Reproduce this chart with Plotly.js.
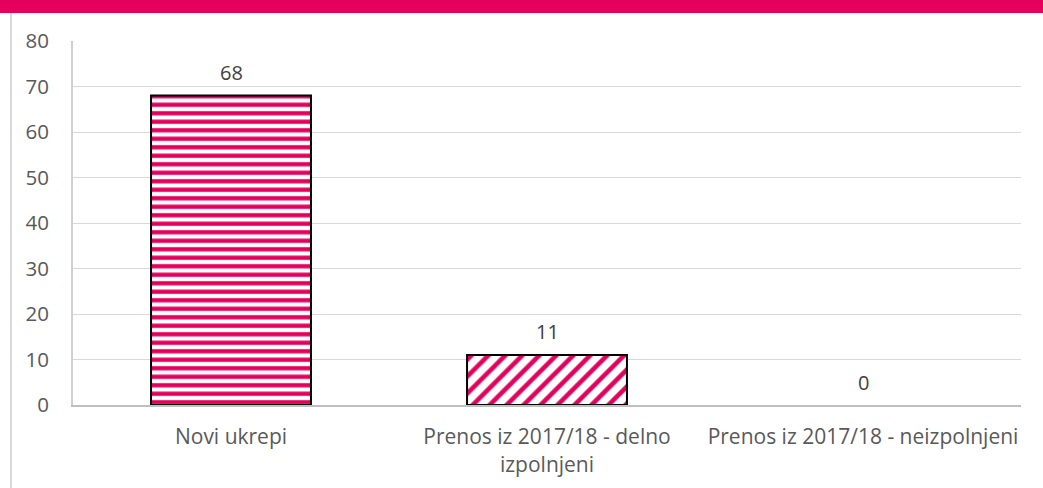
<!DOCTYPE html>
<html>
<head>
<meta charset="utf-8">
<script src="https://cdn.plot.ly/plotly-3.0.1.min.js"></script>
<style>
  html, body { margin: 0; padding: 0; background: #fff; }
  #chart { width: 1043px; height: 488px; }
</style>
</head>
<body>
<div id="chart"></div>
<script>
// Chart data
const categories = ["Novi ukrepi", "Prenos iz 2017/18 - delno<br>izpolnjeni", "Prenos iz 2017/18 - neizpolnjeni"];
const counts = [68, 11, 0];
const patterns = ["-", "/", ""];
const yTicks = [0, 10, 20, 30, 40, 50, 60, 70, 80];

const magenta = "#E5005C";
const fontFamily = "Open Sans, sans-serif";

const trace = {
  x: categories,
  y: counts,
  type: "bar",
  width: 0.506,
  marker: {
    color: "#ffffff",
    line: { color: "#000000", width: counts.map((v) => (v > 0 ? 2 : 0)) },
    pattern: {
      shape: patterns,
      fgcolor: magenta,
      bgcolor: "#ffffff",
      fillmode: "replace",
      size: [8.5, 12, 8],
      solidity: [0.5, 0.38, 0.5],
    },
  },
  hoverinfo: "none",
};

// value labels above the bars
const labels = categories.map((c, i) => ({
  x: c,
  y: counts[i],
  xref: "x",
  yref: "y",
  text: String(counts[i]),
  showarrow: false,
  yanchor: "middle",
  yshift: 23,
  font: { family: fontFamily, size: 20, color: "#404040" },
}));

const layout = {
  width: 1043,
  height: 488,
  margin: { l: 73, r: 22, t: 41, b: 83 },
  paper_bgcolor: "#ffffff",
  plot_bgcolor: "#ffffff",
  showlegend: false,
  font: { family: fontFamily, size: 20, color: "#595959" },
  annotations: labels,
  xaxis: {
    type: "category",
    showgrid: false,
    showline: true,
    linecolor: "#bfbfbf",
    linewidth: 2,
    ticks: "outside",
    ticklen: 12,
    tickcolor: "rgba(0,0,0,0)",
    tickfont: { size: 21, color: "#595959" },
  },
  yaxis: {
    range: [0, 80],
    tickvals: yTicks,
    showgrid: true,
    gridcolor: "#d9d9d9",
    gridwidth: 1,
    zeroline: false,
    showline: true,
    linecolor: "#cfcfcf",
    linewidth: 2,
    ticks: "outside",
    ticklen: 18,
    tickcolor: "rgba(0,0,0,0)",
    tickfont: { size: 20.5, color: "#595959" },
  },
  shapes: [
    // magenta band across the top of the page
    {
      type: "rect", xref: "paper", yref: "paper",
      x0: -73 / 948, x1: 970 / 948,
      y0: 1 + 28 / 364, y1: 1 + 41 / 364,
      fillcolor: magenta, line: { width: 0 }, layer: "above",
    },
    // thin frame line on the left
    {
      type: "line", xref: "paper", yref: "paper",
      x0: -62 / 948, x1: -62 / 948,
      y0: -83 / 364, y1: 1 + 28 / 364,
      line: { color: "#d9d9d9", width: 2 },
    },
  ],
};

Plotly.newPlot("chart", [trace], layout, { displayModeBar: false, staticPlot: true });
</script>
</body>
</html>
